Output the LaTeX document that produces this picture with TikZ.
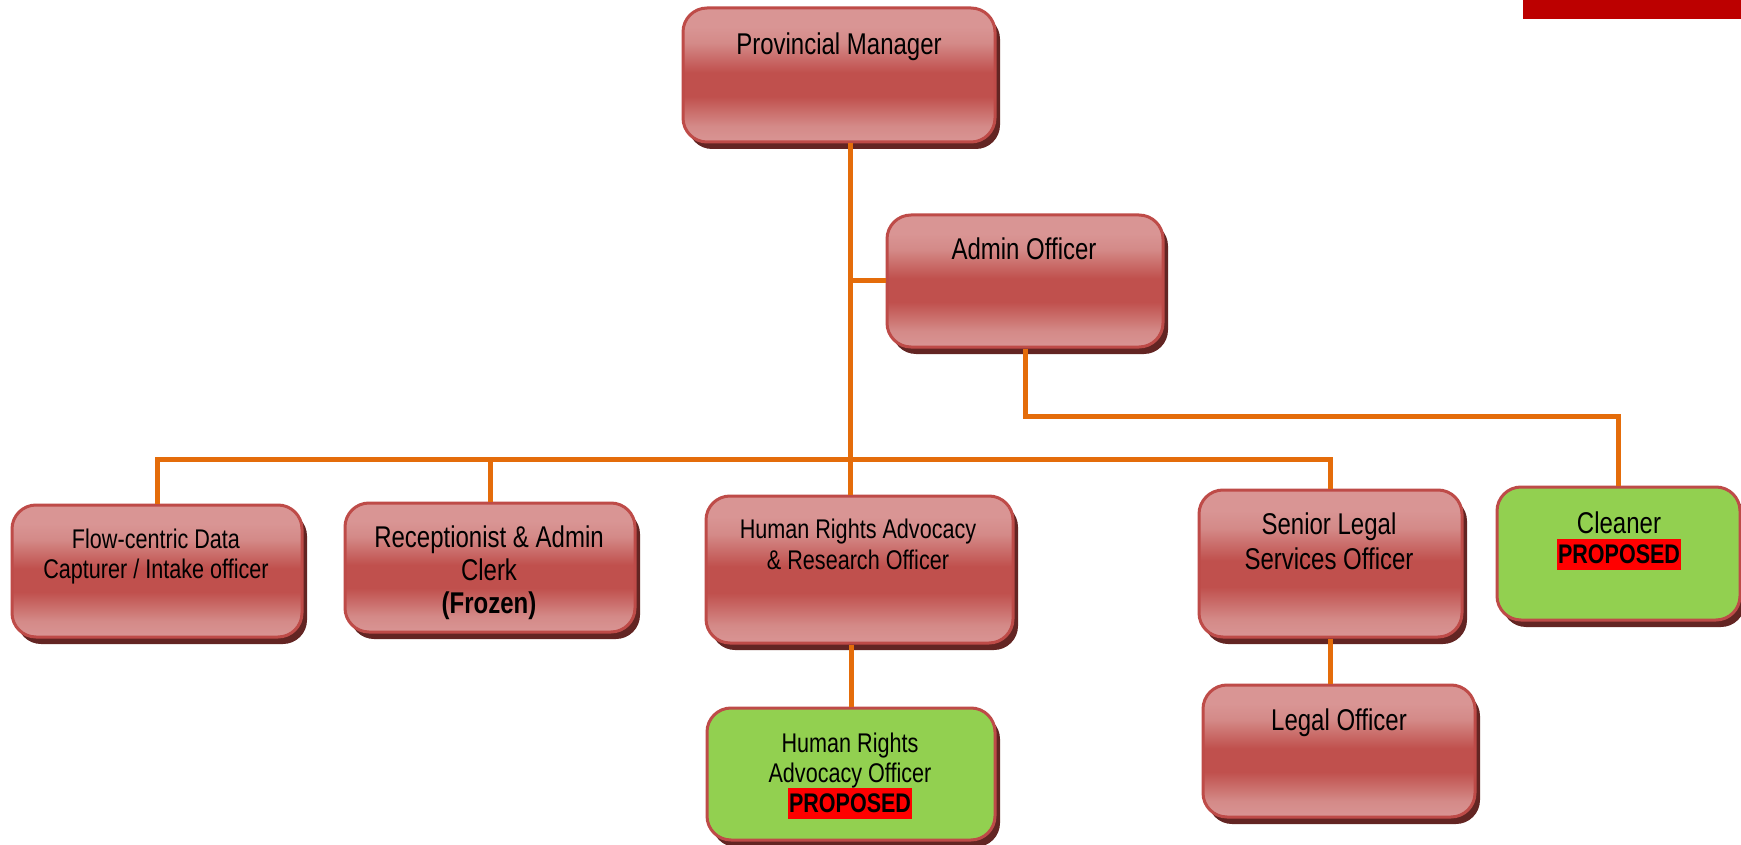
\documentclass[tikz,border=0pt]{standalone}
\usepackage{fontspec}
\newfontfamily\nf[FakeStretch=0.80]{Liberation Sans}
\usetikzlibrary{shadows}
\definecolor{boxL}{HTML}{D99594}
\definecolor{boxL2}{HTML}{D48A88}
\definecolor{boxM}{HTML}{C0504D}
\definecolor{boxB}{HTML}{BE4B48}
\definecolor{shad}{HTML}{632523}
\definecolor{grn}{HTML}{92D050}
\definecolor{org}{HTML}{E46C0A}
\definecolor{pred}{HTML}{FF0000}
\definecolor{barred}{HTML}{BC0000}
\pgfdeclareverticalshading{boxshade}{100bp}{color(0bp)=(boxL); color(25bp)=(boxL); color(31bp)=(boxL2); color(42bp)=(boxM); color(51bp)=(boxM); color(62bp)=(boxL2); color(68bp)=(boxL); color(75bp)=(boxL); color(100bp)=(boxL)}
\newcommand\propbox{{\setlength\fboxsep{0pt}\colorbox{pred}{\kern1pt\rule[-7pt]{0pt}{31pt}\bfseries\fontsize{26.9}{30}\selectfont PROPOSED\kern1pt}}}
\tikzset{
  basebox/.style={rectangle, rounded corners=24pt, draw=boxB, line width=3pt, inner sep=0pt,
    general shadow={fill=shad, shadow xshift=5pt, shadow yshift=-7pt}},
  redbox/.style={basebox, shading=boxshade},
  grnbox/.style={basebox, fill=grn},
  conn/.style={draw=org, line width=5pt},
  lbl/.style={font=\nf\fontsize{30}{33}\selectfont, align=center, anchor=base, inner sep=0pt},
  lblsmall/.style={lbl, font=\nf\fontsize{27}{30}\selectfont},
}
\begin{document}
\begin{tikzpicture}[x=1pt, y=-1pt]
\useasboundingbox (0,0) rectangle (1741,845);
\fill[barred] (1523,0) rectangle (1741,19);
% boxes
\node[redbox, minimum width=312pt, minimum height=134pt] (pm) at (839,75) {};
\node[redbox, minimum width=276pt, minimum height=132pt] (admin) at (1025,281) {};
\node[redbox, minimum width=290pt, minimum height=132pt] (flow) at (157,571) {};
\node[redbox, minimum width=290pt, minimum height=129pt] (rec) at (490,567.5) {};
\node[redbox, minimum width=307pt, minimum height=147pt] (hraro) at (859.5,569.5) {};
\node[redbox, minimum width=263pt, minimum height=147pt] (senior) at (1330.5,563.5) {};
\node[redbox, minimum width=272pt, minimum height=132pt] (legal) at (1339,751) {};
\node[grnbox, minimum width=243pt, minimum height=133pt] (cleaner) at (1618.5,553.5) {};
\node[grnbox, minimum width=288pt, minimum height=132pt] (hrao) at (851,774) {};
% connectors
\coordinate (trunk) at (850,0);
\coordinate (bus) at (0,459);
\coordinate (abus) at (0,416);
\draw[conn] (trunk |- pm.south) -- (trunk |- hraro.north);
\draw[conn] (trunk |- admin.west) -- (admin.west);
\draw[conn] (admin.south) -- (admin.south |- abus) -| (cleaner.north);
\draw[conn] (flow.north) -- (flow.north |- bus) -- (senior.north |- bus) -- (senior.north);
\draw[conn] (rec.north) -- (rec.north |- bus);
\draw[conn] (hrao.north |- hraro.south) -- (hrao.north);
\draw[conn] (senior.south) -- (senior.south |- legal.north);
% texts (anchor=base is the baseline of the last line)
\node[lbl] (pm-t) at (839,55) {Provincial Manager};
\node[lbl] (admin-t) at (1024,260) {Admin Officer};
\node[lblsmall] (flow-t) at (156,578) {Flow-centric Data\\Capturer / Intake officer};
\node[lbl] (rec-t) at (489,613) {Receptionist \& Admin\\Clerk\\\textbf{(Frozen)}};
\node[lblsmall, font=\nf\fontsize{27}{31}\selectfont] (hraro-t) at (858,569) {Human Rights Advocacy\\\& Research Officer};
\node[lbl, font=\nf\fontsize{30}{35}\selectfont] (senior-t) at (1329,569) {Senior Legal\\Services Officer};
\node[lbl] (legal-t) at (1339,730) {Legal Officer};
\node[lbl, font=\nf\fontsize{30}{30}\selectfont] (cleaner-t) at (1619,563) {Cleaner\\\propbox};
\node[lblsmall] (hrao-t) at (850,812) {Human Rights\\Advocacy Officer\\\propbox};
\end{tikzpicture}
\end{document}
